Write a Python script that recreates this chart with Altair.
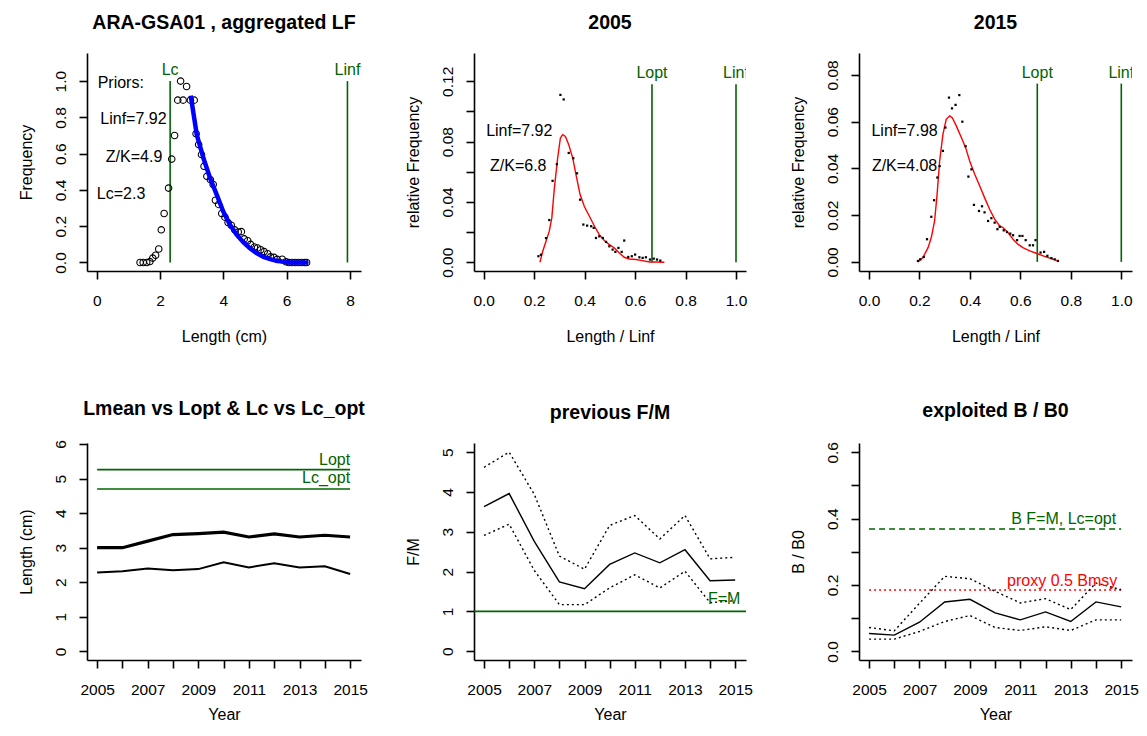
import altair as alt
import pandas as pd

FONT = "Liberation Sans"
GREEN = "#006400"

# ---------------- Panel 1: aggregated LF ----------------
lf_len = [1.37, 1.47, 1.58, 1.68, 1.77, 1.86, 1.96, 2.04, 2.13, 2.27, 2.37, 2.46, 2.56, 2.65,
          2.73, 2.84, 2.96, 3.08, 3.14, 3.22, 3.31, 3.39, 3.48, 3.59, 3.68, 3.75, 3.85, 3.95,
          4.05, 4.15, 4.25, 4.36, 4.47, 4.57, 4.66, 4.77, 4.86, 4.98, 5.08, 5.18, 5.29, 5.40,
          5.49, 5.60, 5.70, 5.86, 5.98, 6.07, 6.17, 6.27, 6.37, 6.47, 6.57, 6.63]
lf_freq = [0, 0, 0, 0.005, 0.024, 0.04, 0.074, 0.18, 0.27, 0.41, 0.57, 0.70, 0.895, 1.0,
           0.895, 0.97, 0.895, 0.895, 0.71, 0.65, 0.595, 0.53, 0.475, 0.457, 0.43, 0.343, 0.32, 0.27,
           0.25, 0.22, 0.205, 0.18, 0.168, 0.17, 0.13, 0.12, 0.10, 0.085, 0.08, 0.07, 0.06, 0.048,
           0.031, 0.028, 0.017, 0.018, 0.004, 0, 0, 0, 0, 0, 0, 0]
fit_len = [2.97, 3.16, 3.37, 3.58, 3.79, 4.0, 4.21, 4.42, 4.63, 4.84, 5.05, 5.27, 5.48, 5.68, 5.9, 6.1, 6.68]
fit_freq = [0.92, 0.705, 0.576, 0.466, 0.374, 0.28, 0.208, 0.153, 0.112, 0.079, 0.052, 0.031, 0.018,
            0.009, 0.004, 0.0, 0.0]
p1_vlines_x = [2.32, 7.92]
p1_vlines_lab = ["Lc", "Linf"]
p1_notes = ["Priors:", "Linf=7.92", "Z/K=4.9", "Lc=2.3"]
p1_notes_x = [0.76, 1.16, 1.18, 0.77]
p1_notes_y = [0.987, 0.79, 0.58, 0.38]

# ---------------- Panel 2: 2005 ----------------
c05_x = [0.223, 0.234, 0.247, 0.26, 0.27, 0.28, 0.293, 0.304, 0.313, 0.324, 0.337, 0.353, 0.366, 0.382,
         0.399, 0.419, 0.439, 0.458, 0.478, 0.498, 0.518, 0.538, 0.557, 0.577, 0.604, 0.63, 0.657,
         0.683, 0.716]
c05_y = [0, 0.0073, 0.0139, 0.0206, 0.0294, 0.049, 0.069, 0.0824, 0.0846, 0.0835, 0.078, 0.069, 0.058,
         0.0449, 0.037, 0.0305, 0.0239, 0.0183, 0.0144, 0.0117, 0.0095, 0.0062, 0.0033, 0.0022, 0.0018,
         0.0011, 0.0002, 0.0002, 0]
d05_x = [0.217, 0.227, 0.247, 0.26, 0.273, 0.29, 0.304, 0.317, 0.337, 0.355, 0.37, 0.382, 0.395, 0.41,
         0.426, 0.436, 0.445, 0.458, 0.472, 0.485, 0.498, 0.511, 0.522, 0.534, 0.547, 0.557, 0.573,
         0.587, 0.6, 0.617, 0.63, 0.643, 0.659, 0.674, 0.687, 0.7]
d05_y = [0.004, 0.005, 0.016, 0.028, 0.054, 0.065, 0.111, 0.108, 0.0725, 0.069, 0.059, 0.0415, 0.025,
         0.0243, 0.0239, 0.0228, 0.0161, 0.0172, 0.0161, 0.0135, 0.0106, 0.0084, 0.0069, 0.0095,
         0.0069, 0.0144, 0.0035, 0.004, 0.0051, 0.0033, 0.0029, 0.0033, 0.0018, 0.0024, 0.0018, 0.0011]
p2_notes = ["Linf=7.92", "Z/K=6.8"]
p2_notes_x = [0.141, 0.137]
p2_notes_y = [0.0868, 0.0636]

# ---------------- Panel 3: 2015 ----------------
c15_x = [0.194, 0.214, 0.234, 0.247, 0.26, 0.27, 0.28, 0.293, 0.306, 0.32, 0.33, 0.346, 0.366, 0.383,
         0.399, 0.419, 0.439, 0.458, 0.478, 0.498, 0.518, 0.531, 0.551, 0.571, 0.59, 0.61, 0.637,
         0.663, 0.69, 0.716, 0.749]
c15_y = [0, 0.0019, 0.0061, 0.0104, 0.0175, 0.029, 0.0432, 0.0546, 0.061, 0.0625, 0.0617, 0.0582,
         0.0532, 0.0489, 0.0432, 0.0375, 0.0325, 0.0275, 0.0225, 0.0183, 0.0154, 0.0147, 0.0125,
         0.0097, 0.0076, 0.0061, 0.0047, 0.0037, 0.0026, 0.0016, 0.0004]
d15_x = [0.194, 0.203, 0.217, 0.23, 0.247, 0.258, 0.271, 0.28, 0.293, 0.303, 0.317, 0.329, 0.343, 0.358,
         0.37, 0.383, 0.394, 0.406, 0.416, 0.436, 0.448, 0.458, 0.472, 0.485, 0.498, 0.509, 0.518,
         0.534, 0.547, 0.56, 0.571, 0.587, 0.597, 0.608, 0.621, 0.637, 0.65, 0.66, 0.68, 0.694, 0.707,
         0.723, 0.736, 0.749]
d15_y = [0.0004, 0.0011, 0.0021, 0.0097, 0.0193, 0.0264, 0.0361, 0.041, 0.0475, 0.0575, 0.0703, 0.0657,
         0.0672, 0.0714, 0.06, 0.0495, 0.0365, 0.0396, 0.0244, 0.0218, 0.0238, 0.0212, 0.0175, 0.0187,
         0.0168, 0.014, 0.015, 0.0135, 0.0128, 0.0121, 0.0114, 0.0093, 0.0111, 0.0111, 0.0093, 0.0071,
         0.0071, 0.0093, 0.004, 0.0043, 0.0026, 0.0016, 0.0011, 0.0004]
p3_notes = ["Linf=7.98", "Z/K=4.08"]
p3_notes_x = [0.141, 0.141]
p3_notes_y = [0.056, 0.041]
rel_vlines_x = [0.667, 1.0]
rel_vlines_lab = ["Lopt", "Linf"]

# ---------------- Bottom row: time series ----------------
years = list(range(2005, 2016))
lmean = [3.0, 3.0, 3.19, 3.38, 3.41, 3.45, 3.31, 3.40, 3.31, 3.36, 3.31]
lc_year = [2.28, 2.32, 2.40, 2.35, 2.38, 2.58, 2.43, 2.55, 2.43, 2.46, 2.24]
p4_refs = [5.26, 4.70]
p4_refs_lab = ["Lopt", "Lc_opt"]

fm_mid = [3.63, 3.96, 2.76, 1.74, 1.57, 2.18, 2.47, 2.22, 2.55, 1.77, 1.79]
fm_hi = [4.62, 5.00, 3.94, 2.39, 2.06, 3.16, 3.41, 2.82, 3.41, 2.32, 2.36]
fm_lo = [2.91, 3.19, 2.03, 1.17, 1.17, 1.59, 1.92, 1.59, 2.01, 1.22, 1.27]

bb_mid = [0.054, 0.049, 0.088, 0.149, 0.157, 0.116, 0.095, 0.119, 0.090, 0.149, 0.134]
bb_hi = [0.072, 0.062, 0.145, 0.226, 0.219, 0.181, 0.146, 0.159, 0.126, 0.206, 0.186]
bb_lo = [0.037, 0.037, 0.060, 0.090, 0.108, 0.072, 0.063, 0.074, 0.063, 0.095, 0.095]
b_fm = 0.369
b_proxy = 0.185

WS = [274, 272, 273]
H_TOP, H_BOT = 218, 217
TXT = 16


def xenc(domain, values, fmt, title, label_expr=None, title_pad=None):
    ax = dict(values=values, format=fmt, title=title)
    if label_expr:
        ax["labelExpr"] = label_expr
    if title_pad is not None:
        ax["titlePadding"] = title_pad
    return alt.X("x:Q", scale=alt.Scale(domain=domain, nice=False, zero=False), axis=alt.Axis(**ax))


def yenc(domain, values, fmt, title, label_expr=None):
    ax = dict(values=values, format=fmt, title=title)
    if label_expr:
        ax["labelExpr"] = label_expr
    return alt.Y("y:Q", scale=alt.Scale(domain=domain, nice=False, zero=False), axis=alt.Axis(**ax))


def df(x, y, **extra):
    d = pd.DataFrame({"x": x, "y": y})
    for k, v in extra.items():
        d[k] = v
    return d


def notes(data, X, Y, color="black", align="center", clip=False):
    return alt.Chart(data).mark_text(font=FONT, fontSize=TXT, color=color, align=align,
                                     baseline="middle", clip=clip).encode(x=X, y=Y, text="t:N")


# ---- panel 1
X1 = xenc([-0.306, 8.348], [0, 2, 4, 6, 8], "d", "Length (cm)")
Y1 = yenc([-0.047, 1.155], [0, 0.2, 0.4, 0.6, 0.8, 1.0], ".1f", "Frequency")
p1 = alt.layer(
    alt.Chart(df(p1_vlines_x, [0, 0], y2=[1.0, 1.0])).mark_rule(color=GREEN, strokeWidth=1.6)
    .encode(x=X1, y=Y1, y2="y2:Q"),
    alt.Chart(df(lf_len, lf_freq)).mark_point(shape="circle", filled=False, size=42, color="black",
                                                strokeWidth=1.1, opacity=1).encode(x=X1, y=Y1),
    alt.Chart(df(fit_len, fit_freq)).mark_line(color="blue", strokeWidth=4.5).encode(x=X1, y=Y1),
    notes(df(p1_vlines_x, [1.06, 1.06], t=p1_vlines_lab), X1, Y1, color=GREEN, clip=True),
    notes(df(p1_notes_x, p1_notes_y, t=p1_notes), X1, Y1),
).properties(width=WS[0], height=H_TOP, title="ARA-GSA01 , aggregated LF")

# ---- panel 2
X2 = xenc([-0.0384, 1.0396], [0, 0.2, 0.4, 0.6, 0.8, 1.0], ".1f", "Length / Linf")
Y2 = yenc([-0.0058, 0.1388], [0, 0.02, 0.04, 0.06, 0.08, 0.10, 0.12], ".2f", "relative Frequency",
          "datum.value == 0 || abs(datum.value - 0.04) < 1e-6 || abs(datum.value - 0.08) < 1e-6 || abs(datum.value - 0.12) < 1e-6 ? datum.label : ''")
p2 = alt.layer(
    alt.Chart(df(rel_vlines_x, [0, 0], y2=[0.118, 0.118])).mark_rule(color=GREEN, strokeWidth=1.6)
    .encode(x=X2, y=Y2, y2="y2:Q"),
    alt.Chart(df(c05_x, c05_y)).mark_line(color="red", strokeWidth=1.4).encode(x=X2, y=Y2),
    alt.Chart(df(d05_x, d05_y)).mark_square(color="black", size=5, opacity=1).encode(x=X2, y=Y2),
    notes(df(rel_vlines_x, [0.1255, 0.1255], t=rel_vlines_lab), X2, Y2, color=GREEN, clip=True),
    notes(df(p2_notes_x, p2_notes_y, t=p2_notes), X2, Y2),
).properties(width=WS[1], height=H_TOP, title="2005")

# ---- panel 3
X3 = xenc([-0.0396, 1.0424], [0, 0.2, 0.4, 0.6, 0.8, 1.0], ".1f", "Length / Linf")
Y3 = yenc([-0.0039, 0.0894], [0, 0.02, 0.04, 0.06, 0.08], ".2f", "relative Frequency")
p3 = alt.layer(
    alt.Chart(df(rel_vlines_x, [0, 0], y2=[0.0763, 0.0763])).mark_rule(color=GREEN, strokeWidth=1.6)
    .encode(x=X3, y=Y3, y2="y2:Q"),
    alt.Chart(df(c15_x, c15_y)).mark_line(color="red", strokeWidth=1.4).encode(x=X3, y=Y3),
    alt.Chart(df(d15_x, d15_y)).mark_square(color="black", size=5, opacity=1).encode(x=X3, y=Y3),
    notes(df(rel_vlines_x, [0.081, 0.081], t=rel_vlines_lab), X3, Y3, color=GREEN, clip=True),
    notes(df(p3_notes_x, p3_notes_y, t=p3_notes), X3, Y3),
).properties(width=WS[2], height=H_TOP, title="2015")

# ---- bottom row
YEAR_EXPR = "datum.value % 2 == 1 ? datum.label : ''"
XB = xenc([2004.6, 2015.43], years, "d", "Year", YEAR_EXPR, title_pad=9)

Y4 = yenc([-0.25, 6.03], [0, 1, 2, 3, 4, 5, 6], "d", "Length (cm)")
p4 = alt.layer(
    alt.Chart(df([2005, 2005], p4_refs, x2=[2015, 2015])).mark_rule(color=GREEN, strokeWidth=1.6)
    .encode(x=XB, x2="x2:Q", y=Y4),
    alt.Chart(df(years, lmean)).mark_line(color="black", strokeWidth=3.2).encode(x=XB, y=Y4),
    alt.Chart(df(years, lc_year)).mark_line(color="black", strokeWidth=2).encode(x=XB, y=Y4),
    notes(df([2015, 2015], [5.53, 5.02], t=p4_refs_lab), XB, Y4, color=GREEN, align="right"),
).properties(width=WS[0], height=H_BOT, title="Lmean vs Lopt & Lc vs Lc_opt")

Y5 = yenc([-0.22, 5.23], [0, 1, 2, 3, 4, 5], "d", "F/M")
p5 = alt.layer(
    alt.Chart(df([2010], [1.0])).mark_rule(color=GREEN, strokeWidth=1.6).encode(y=Y5),
    alt.Chart(df(years, fm_hi)).mark_line(color="black", strokeWidth=1.4, strokeDash=[2, 3]).encode(x=XB, y=Y5),
    alt.Chart(df(years, fm_lo)).mark_line(color="black", strokeWidth=1.4, strokeDash=[2, 3]).encode(x=XB, y=Y5),
    alt.Chart(df(years, fm_mid)).mark_line(color="black", strokeWidth=1.4).encode(x=XB, y=Y5),
    notes(df([2014.56], [1.31], t=["F=M"]), XB, Y5, color=GREEN),
).properties(width=WS[1], height=H_BOT, title="previous F/M")

Y6 = yenc([-0.026, 0.628], [0, 0.1, 0.2, 0.3, 0.4, 0.5, 0.6], ".1f", "B / B0",
          "round(datum.value * 10) % 2 == 0 ? datum.label : ''")
p6 = alt.layer(
    alt.Chart(df([2005], [b_fm], x2=[2015])).mark_rule(color=GREEN, strokeWidth=1.6, strokeDash=[6, 4])
    .encode(x=XB, x2="x2:Q", y=Y6),
    alt.Chart(df([2005], [b_proxy], x2=[2015])).mark_rule(color="red", strokeWidth=1.6, strokeDash=[2, 3])
    .encode(x=XB, x2="x2:Q", y=Y6),
    alt.Chart(df(years, bb_hi)).mark_line(color="black", strokeWidth=1.4, strokeDash=[2, 3]).encode(x=XB, y=Y6),
    alt.Chart(df(years, bb_lo)).mark_line(color="black", strokeWidth=1.4, strokeDash=[2, 3]).encode(x=XB, y=Y6),
    alt.Chart(df(years, bb_mid)).mark_line(color="black", strokeWidth=1.4).encode(x=XB, y=Y6),
    notes(df([2014.8], [0.40], t=["B F=M, Lc=opt"]), XB, Y6, color=GREEN, align="right"),
    notes(df([2014.85], [0.213], t=["proxy 0.5 Bmsy"]), XB, Y6, color="red", align="right"),
).properties(width=WS[2], height=H_BOT, title="exploited B / B0")

chart = (
    alt.concat(p1, p2, p3, p4, p5, p6, columns=3, spacing={"row": 172, "column": 113}, bounds="flush")
    .properties(padding={"left": 10, "top": 4, "right": 0, "bottom": 0})
    .configure(font=FONT)
    .configure_view(stroke=None)
    .configure_axis(domainColor="black", tickColor="black", labelColor="black", titleColor="black",
                    domainWidth=1.6, tickWidth=1.6, tickSize=8, labelFontSize=15.5, titleFontSize=16,
                    titleFontWeight="normal", grid=False, labelFlush=False, labelOverlap=False,
                    labelFont=FONT, titleFont=FONT)
    .configure_axisX(labelPadding=14, titlePadding=19.5)
    .configure_axisY(labelAngle=270, labelAlign="center", labelBaseline="bottom", labelPadding=11,
                     titlePadding=19)
    .configure_title(font=FONT, fontSize=19.5, fontWeight="bold", color="black", anchor="middle",
                     frame="group", offset=20)
)

chart.save("out.html", embed_options={"renderer": "svg", "actions": False})
